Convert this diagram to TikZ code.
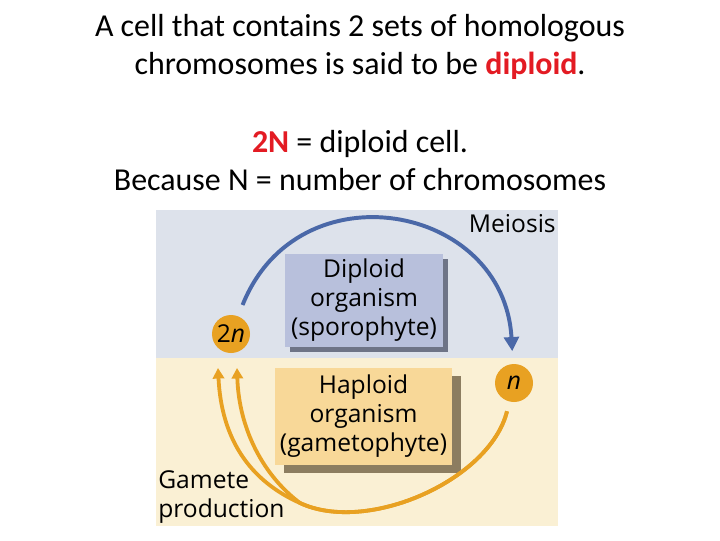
\documentclass[tikz,border=0pt]{standalone}
\usepackage{fontspec}
\setmainfont{Carlito}
\newfontfamily\figfont{Open Sans}
\usetikzlibrary{arrows.meta,shadows}
\definecolor{meiosisblue}{HTML}{4A68A8}
\definecolor{gameteorange}{HTML}{E8A122}
\definecolor{diploidbg}{HTML}{DDE2EB}
\definecolor{haploidbg}{HTML}{FAF0D4}
\definecolor{diploidfill}{HTML}{B8C0DC}
\definecolor{diploidshade}{HTML}{6E7487}
\definecolor{haploidfill}{HTML}{F8D898}
\definecolor{haploidshade}{HTML}{8C7D60}
\definecolor{titlered}{HTML}{E31B23}

\begin{document}
\begin{tikzpicture}[x=0.025cm,y=-0.025cm,
  headline/.style={font=\fontsize{22.7}{27}\selectfont,anchor=base,inner sep=0pt},
  figlabel/.style={font=\figfont\fontsize{17.5}{20.6}\selectfont,inner sep=0pt},
  organism/.style={figlabel,align=center},
  ploidy/.style={circle,fill=gameteorange,minimum size=0.95cm,figlabel},
  meiosis/.style={-{Triangle[length=10pt,width=10.5pt]},line width=2.8pt,draw=meiosisblue},
  gamete/.style={-{Triangle[length=7.5pt,width=8pt]},line width=2.7pt,draw=gameteorange}
]
\useasboundingbox[fill=white] (0,0) rectangle (720,540);

\node[headline] (line1) at (360,36) {A cell that contains 2 sets of homologous};
\node[headline] (line2) at (360,74) {chromosomes is said to be \textcolor{titlered}{\textbf{diploid}}.};
\node[headline] (line3) at (360,152) {\textcolor{titlered}{\textbf{2N}} = diploid cell.};
\node[headline] (line4) at (360,190) {Because N = number of chromosomes};

\fill[diploidbg] (156,210) rectangle (558,358);
\fill[haploidbg] (156,358) rectangle (558,526);

\node[organism,fill=diploidfill,minimum width=3.95cm,minimum height=2.325cm,
  drop shadow={shadow xshift=3.6pt,shadow yshift=-3.6pt,fill=diploidshade,opacity=1}]
  (sporophyte) at (364,300.5) {Diploid\\organism\\(sporophyte)};
\node[organism,fill=haploidfill,minimum width=4.425cm,minimum height=2.425cm,
  drop shadow={shadow xshift=6.4pt,shadow yshift=-5.7pt,fill=haploidshade,opacity=1}]
  (gametophyte) at (363.5,416.5) {Haploid\\organism\\(gametophyte)};

\node[ploidy] (twon) at (231,334) {2\textit{n}};
\node[ploidy] (onen) at (514,383) {\textit{n}};

\node[figlabel,anchor=base east] (meiosislabel) at (556,232) {Meiosis};
\node[figlabel,align=left,anchor=west] (gametelabel) at (158,497) {Gamete\\production};

\coordinate (merge) at (300,503);
\coordinate (tipouter) at (218,368);
\coordinate (tipinner) at (237,368);

\draw[meiosis,shorten <=8.5pt,shorten >=9pt] (twon) .. controls (298,166) and (504,203) .. (onen);
\draw[gamete,shorten <=7pt] (onen) .. controls (490,480) and (367.5,534.5) .. (merge)
  .. controls (250.5,481) and (221.5,440) .. (tipouter);
\draw[gamete,shorten <=7pt] (onen) .. controls (490,480) and (367.5,534.5) .. (merge)
  .. controls (264,476) and (239,430) .. (tipinner);
\end{tikzpicture}
\end{document}
